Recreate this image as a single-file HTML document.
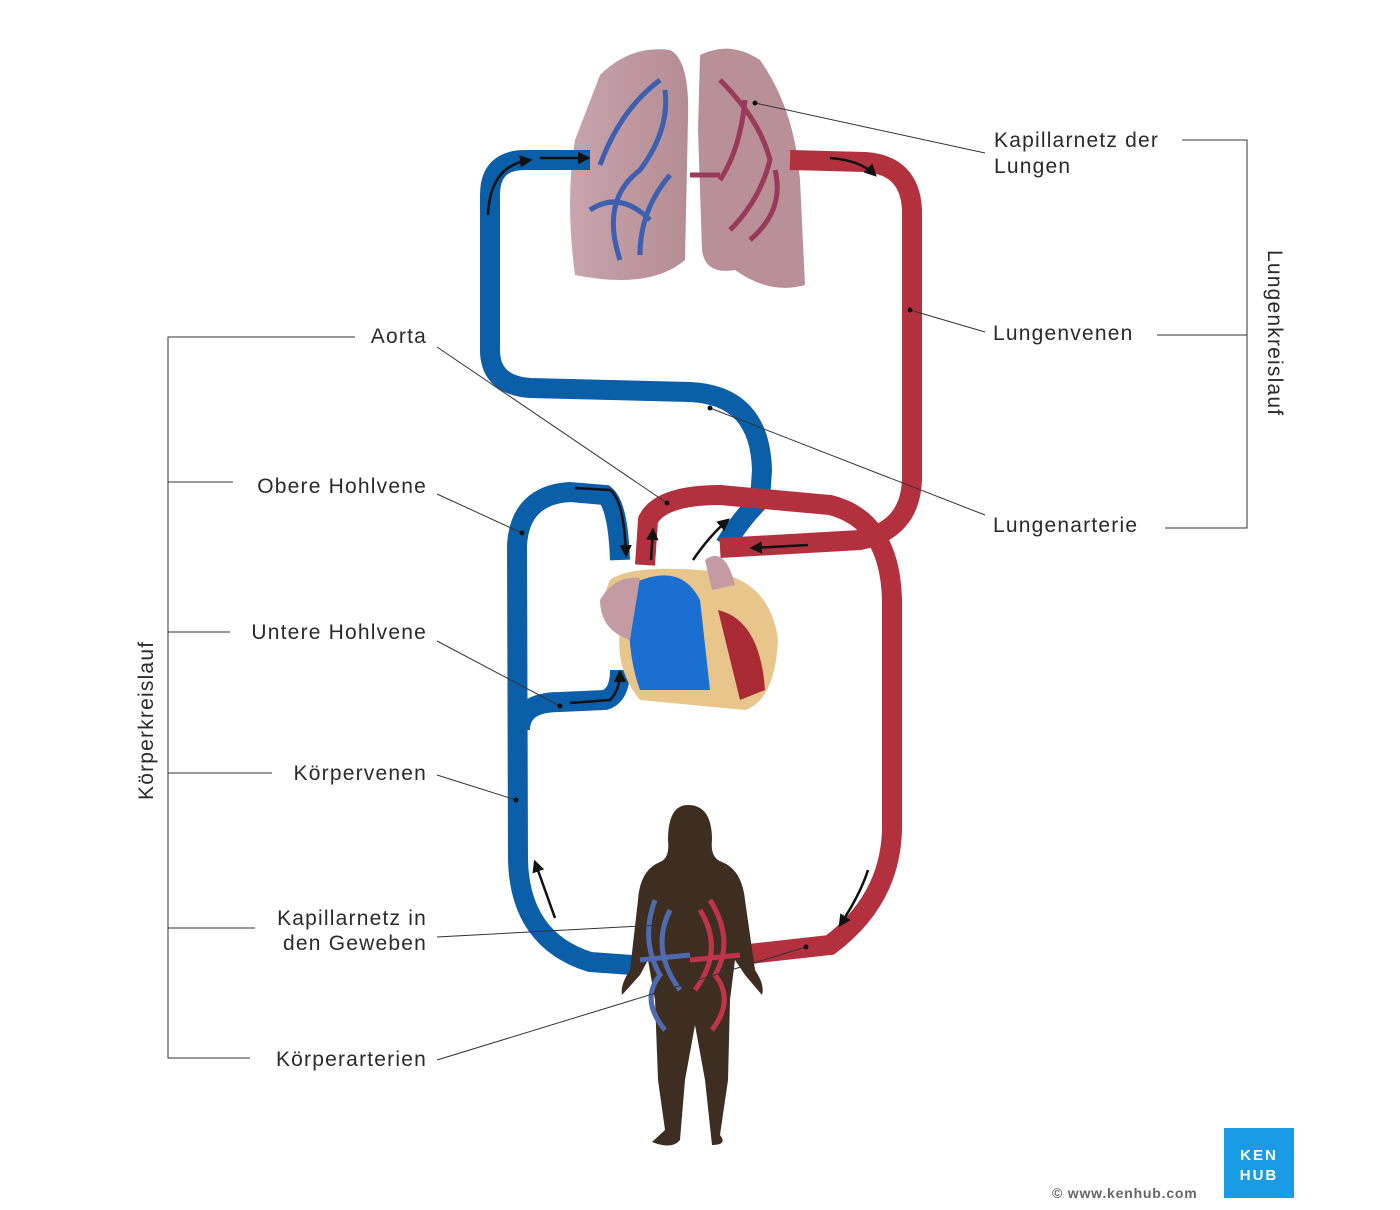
<!DOCTYPE html>
<html><head><meta charset="utf-8"><style>
html,body{margin:0;padding:0;background:#fff;}
svg{display:block;}
text{font-family:"Liberation Sans",sans-serif;fill:#2a2a2a;font-size:21px;letter-spacing:1.2px;}
</style></head><body>
<svg width="1400" height="1210" viewBox="0 0 1400 1210">
<defs>
<marker id="ar" viewBox="0 0 10 10" refX="8" refY="5" markerWidth="5" markerHeight="5" orient="auto"><path d="M0,0L10,5L0,10z" fill="#111"/></marker>
<linearGradient id="lungL" x1="0" x2="1"><stop offset="0" stop-color="#c9a4ac"/><stop offset="1" stop-color="#b48c94"/></linearGradient>
</defs>
<path d="M600,75 Q630,45 670,50 Q690,60 688,120 L685,260 Q650,290 575,275 Q565,200 575,140 Z" fill="url(#lungL)"/>
<path d="M700,55 Q730,40 760,60 Q795,110 800,180 L805,285 Q770,295 735,270 Q705,275 702,250 L698,130 Z" fill="#b98f98"/>
<g fill="none" stroke-width="5">
<path d="M600,165 Q620,110 660,80 M620,260 Q600,200 640,170 Q670,130 665,90 M640,255 Q640,210 670,175 M590,210 Q620,190 650,220" stroke="#3c5fb0"/>
<path d="M730,230 Q760,200 770,160 Q760,120 720,80 M750,240 Q785,210 775,170 M720,180 Q740,150 745,100 M690,175 L720,175" stroke="#9a3a5a"/>
</g>
<g fill="none" stroke-width="20" stroke-linecap="butt">
<path d="M590,160 L525,160 Q490,160 490,195 L490,350 Q490,385 530,388 L690,392 Q760,395 762,470 L760,500 Q740,520 725,545" stroke="#0b5ea8"/>
<path d="M790,160 L865,162 Q910,165 912,210 L912,480 Q910,530 860,540 L720,548" stroke="#b3313f"/>
<path d="M645,565 L648,520 Q660,495 720,495 L830,505 Q890,520 892,600 L892,830 Q890,900 830,945 L740,955" stroke="#b3313f"/>
<path d="M632,965 L590,962 Q520,940 518,860 L517,545 Q520,495 570,492 L605,495 Q618,505 620,560" stroke="#0b5ea8"/>
<path d="M520,730 Q520,702 560,702 L605,700 Q620,695 620,670" stroke="#0b5ea8"/>
</g>
<g stroke="#111" stroke-width="2.5" fill="none" marker-end="url(#ar)">
<path d="M488,215 Q490,165 530,160"/><line x1="540" y1="158" x2="588" y2="158"/>
<path d="M830,158 Q860,160 875,175"/>
<path d="M575,488 L610,490 Q624,500 626,555"/>
<path d="M651,560 L653,530"/>
<path d="M693,560 Q710,535 728,520"/>
<line x1="808" y1="545" x2="752" y2="548"/>
<path d="M570,703 L610,700 Q620,690 620,672"/>
<path d="M868,870 Q860,895 840,925"/>
<line x1="555" y1="918" x2="535" y2="862"/>
</g>
<path d="M610,580 Q630,565 700,570 Q770,575 778,640 Q775,700 745,710 L640,700 Q615,670 620,630 Q598,620 602,600 Z" fill="#e8c58a"/>
<path d="M630,585 Q680,560 700,600 L710,690 L640,690 Q625,650 630,585 Z" fill="#1a6fd0"/>
<path d="M718,610 Q760,620 765,690 L740,700 Z" fill="#a92a35"/>
<path d="M600,600 Q615,575 640,578 L630,640 Q600,630 600,600 Z" fill="#c59ba3"/>
<path d="M705,560 Q725,545 735,585 L712,590 Z" fill="#c59ba3"/>
<path d="M688,805 Q712,805 712,840 Q710,858 722,862 Q742,870 745,900 L755,970 Q765,985 762,995 L745,975 L735,960 L730,1000 L728,1080 L720,1135 Q728,1145 712,1145 L705,1080 L695,1025 L685,1080 L680,1140 Q672,1150 652,1142 L665,1130 L658,1080 L655,1000 L648,960 L640,975 L622,995 Q620,985 630,970 L638,900 Q640,870 660,862 Q670,858 668,840 Q668,805 688,805 Z" fill="#3e2e22"/>
<g fill="none" stroke-width="5">
<path d="M655,900 Q640,940 660,975 Q640,1000 665,1030 M670,910 Q650,950 680,990 M640,960 L690,955" stroke="#4f6bb0"/>
<path d="M710,900 Q735,940 715,975 Q735,1000 712,1030 M700,910 Q725,950 695,990 M690,960 L740,955" stroke="#c0334a"/>
</g>
<g stroke="#333" stroke-width="1" fill="none">
<line x1="985" y1="153" x2="755" y2="103"/>
<line x1="985" y1="332" x2="910" y2="310"/>
<line x1="985" y1="515" x2="710" y2="408"/>
<line x1="437" y1="347" x2="667" y2="503"/>
<line x1="437" y1="494" x2="522" y2="533"/>
<line x1="437" y1="641" x2="560" y2="706"/>
<line x1="437" y1="775" x2="516" y2="800"/>
<line x1="437" y1="937" x2="660" y2="925"/>
<line x1="437" y1="1060" x2="806" y2="947"/>
<path d="M1182,140 H1247 V528 H1165 M1157,335 H1247"/>
<path d="M355,337 H168 V1058 H250 M168,482 H233 M168,632 H230 M168,773 H272 M168,928 H255"/>
</g>
<g fill="#111"><circle cx="755" cy="103" r="2.5"/><circle cx="910" cy="310" r="2.5"/><circle cx="710" cy="408" r="2.5"/><circle cx="667" cy="503" r="2.5"/><circle cx="522" cy="533" r="2.5"/><circle cx="560" cy="706" r="2.5"/><circle cx="516" cy="800" r="2.5"/><circle cx="806" cy="947" r="2.5"/></g>
<text x="994" y="147">Kapillarnetz der</text>
<text x="994" y="173">Lungen</text>
<text x="993" y="340">Lungenvenen</text>
<text x="993" y="532">Lungenarterie</text>
<g text-anchor="end">
<text x="427" y="343">Aorta</text>
<text x="427" y="493">Obere Hohlvene</text>
<text x="427" y="639">Untere Hohlvene</text>
<text x="427" y="780">Körpervenen</text>
<text x="427" y="925">Kapillarnetz in</text>
<text x="427" y="950">den Geweben</text>
<text x="427" y="1066">Körperarterien</text>
</g>
<text transform="translate(1268,250) rotate(90)">Lungenkreislauf</text>
<text transform="translate(153,800) rotate(-90)">Körperkreislauf</text>
<rect x="1224" y="1128" width="70" height="70" fill="#1a9be6"/>
<text x="1259" y="1160" text-anchor="middle" style="fill:#fff;font-size:15px;font-weight:bold;letter-spacing:2px">KEN</text>
<text x="1259" y="1180" text-anchor="middle" style="fill:#fff;font-size:15px;font-weight:bold;letter-spacing:2px">HUB</text>
<text x="1052" y="1198" style="font-size:14px;fill:#666;font-weight:bold;letter-spacing:0.8px">© www.kenhub.com</text>
</svg>
</body></html>
